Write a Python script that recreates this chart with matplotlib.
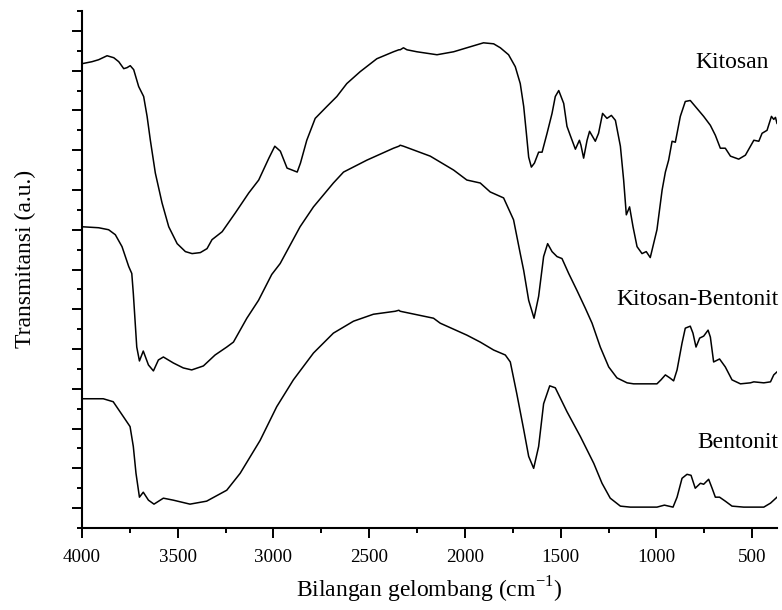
import matplotlib
matplotlib.use("Agg")
import matplotlib.pyplot as plt
from matplotlib.ticker import MultipleLocator, NullFormatter

plt.rcParams['font.family'] = ['Liberation Serif', 'DejaVu Serif']
plt.rcParams['mathtext.fontset'] = 'custom'
plt.rcParams['mathtext.rm'] = 'Liberation Serif'

# FTIR spectra, wavenumber (cm-1) vs transmittance (a.u., stacked)
kitosan_wn = [4000, 3948, 3913, 3869, 3834, 3808, 3782, 3765, 3748, 3730, 3704, 3678,
              3660, 3643, 3617, 3582, 3547, 3503, 3460, 3425, 3382, 3347, 3321, 3268,
              3199, 3129, 3077, 3024, 2993, 2964, 2929, 2902, 2876, 2859, 2826, 2782,
              2721, 2669, 2617, 2547, 2460, 2373, 2345, 2338, 2321, 2303, 2251, 2146,
              2059, 1990, 1903, 1850, 1815, 1772, 1737, 1711, 1693, 1679, 1667, 1653,
              1637, 1615, 1597, 1571, 1545, 1528, 1510, 1484, 1467, 1450, 1423, 1402,
              1394, 1380, 1362, 1349, 1319, 1302, 1281, 1258, 1235, 1214, 1188, 1171,
              1157, 1140, 1122, 1101, 1075, 1053, 1032, 997, 970, 953, 936, 918,
              901, 875, 849, 823, 788, 753, 718, 692, 666, 640, 613, 570,
              535, 491, 465, 448, 422, 399, 387, 378, 370]
kitosan_t = [467, 469, 471, 475, 473, 469, 462, 463, 465, 461, 444, 434,
             414, 390, 357, 327, 303, 286, 278, 276, 277, 281, 290, 298,
             317, 337, 350, 372, 384, 379, 362, 360, 358, 367, 390, 412,
             424, 434, 447, 459, 472, 479, 481, 481, 483, 481, 479, 476,
             479, 483, 488, 487, 483, 476, 464, 447, 424, 397, 373, 363,
             367, 378, 378, 397, 417, 434, 440, 427, 404, 395, 381, 390,
             385, 372, 390, 399, 389, 397, 417, 412, 415, 410, 384, 350,
             315, 323, 303, 283, 276, 278, 272, 300, 340, 358, 370, 389,
             388, 414, 429, 430, 422, 414, 405, 395, 382, 382, 374, 371,
             375, 390, 389, 397, 400, 414, 411, 413, 407]

kb_wn = [4000, 3913, 3861, 3826, 3791, 3756, 3740, 3732, 3714, 3700, 3680, 3653,
         3627, 3601, 3575, 3523, 3471, 3427, 3366, 3305, 3244, 3209, 3139, 3078,
         3009, 2965, 2861, 2791, 2687, 2634, 2512, 2373, 2345, 2338, 2321, 2181,
         2059, 1990, 1920, 1868, 1798, 1746, 1711, 1693, 1667, 1639, 1615, 1589,
         1568, 1545, 1519, 1493, 1458, 1415, 1371, 1336, 1293, 1249, 1206, 1153,
         1119, 997, 976, 953, 930, 910, 892, 866, 849, 823, 809, 793,
         774, 753, 730, 718, 701, 670, 640, 605, 561, 509, 491, 439,
         404, 387, 370]
kb_t = [303, 302, 300, 295, 283, 263, 256, 236, 182, 168, 178, 164,
        158, 169, 172, 166, 161, 159, 163, 174, 182, 187, 211, 229,
        255, 266, 303, 323, 347, 358, 370, 382, 384, 385, 384, 374,
        360, 350, 347, 338, 332, 310, 276, 259, 229, 211, 233, 273,
        286, 278, 273, 271, 256, 239, 221, 206, 182, 162, 151, 146,
        145, 145, 149, 154, 151, 148, 159, 186, 201, 203, 196, 182,
        191, 193, 199, 192, 167, 170, 162, 149, 145, 146, 147, 146,
        147, 154, 157]

bent_wn = [4000, 3889, 3837, 3784, 3749, 3732, 3718, 3700, 3680, 3653, 3624, 3575,
           3523, 3436, 3349, 3244, 3174, 3070, 2983, 2896, 2791, 2687, 2582, 2478,
           2364, 2345, 2338, 2164, 2129, 1990, 1920, 1850, 1789, 1763, 1729, 1693,
           1667, 1641, 1615, 1589, 1557, 1528, 1467, 1397, 1327, 1284, 1241, 1188,
           1136, 997, 958, 913, 892, 866, 840, 819, 797, 770, 753, 727,
           709, 692, 670, 640, 605, 544, 439, 404, 370]
bent_t = [130, 130, 127, 112, 102, 82, 55, 31, 36, 28, 24, 30,
          28, 24, 27, 38, 55, 88, 122, 149, 176, 196, 208, 215,
          218, 219, 218, 211, 206, 194, 187, 179, 174, 167, 135, 99,
          72, 60, 82, 125, 143, 141, 117, 92, 65, 45, 30, 22,
          21, 21, 23, 21, 31, 50, 54, 53, 40, 45, 44, 49,
          40, 31, 31, 27, 22, 21, 21, 25, 31]

labels = ['Kitosan', 'Kitosan-Bentonit', 'Bentonit']
label_x = [415, 363, 363]
label_y = [463, 224, 80]

fig = plt.figure(figsize=(7.82, 6.10), dpi=100)
ax = fig.add_axes([82 / 782, 82 / 610, 695 / 782, 517 / 610])

for wn, t in [(kitosan_wn, kitosan_t), (kb_wn, kb_t), (bent_wn, bent_t)]:
    ax.plot(wn, t, color='black', lw=1.1, solid_joinstyle='round')

for lab, lx, ly in zip(labels, label_x, label_y):
    ax.text(lx, ly, lab, ha='right', va='baseline', fontsize=17, clip_on=False)

ax.set_xlim(4000, 370)
ax.set_ylim(0, 520)
ax.xaxis.set_major_locator(MultipleLocator(500))
ax.xaxis.set_minor_locator(MultipleLocator(250))
ax.set_yticks(range(20, 520, 40))
ax.set_yticks(range(0, 521, 40), minor=True)
ax.yaxis.set_major_formatter(NullFormatter())

for s in ['top', 'right']:
    ax.spines[s].set_visible(False)
for s in ['left', 'bottom']:
    ax.spines[s].set_linewidth(1.5)

ax.tick_params(which='major', direction='out', length=7.2, width=1.4, labelsize=13.7, pad=7.6)
ax.tick_params(which='minor', direction='out', length=3.6, width=1.4)

ax.set_xlabel(r'Bilangan gelombang (cm$^{\mathregular{-1}}$)', fontsize=17, labelpad=6.5)
ax.set_ylabel('Transmitansi (a.u.)', fontsize=17)
ax.yaxis.set_label_coords(-0.0662, 0.521)

fig.savefig('out.png', dpi=100)
